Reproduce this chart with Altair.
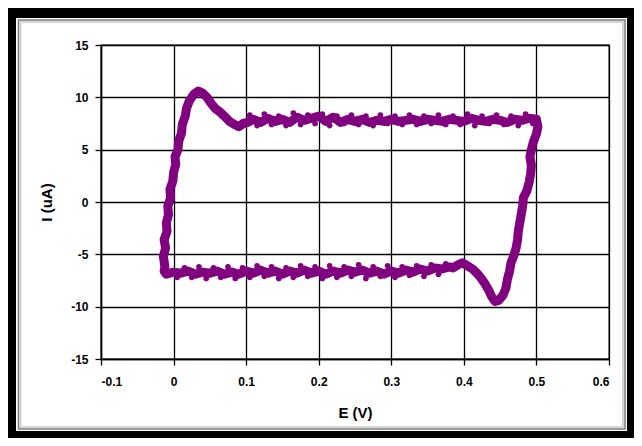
import altair as alt
import pandas as pd

# Cyclic voltammogram, traced around the loop (E in V, I in uA)
E_left = [-0.012, -0.014, -0.011, -0.013, -0.009, -0.010, -0.007, -0.008, -0.004, -0.005,
          -0.001, 0.000, 0.003, 0.002, 0.006, 0.007, 0.011, 0.012, 0.016, 0.018,
          0.022, 0.028, 0.034, 0.040, 0.046, 0.052, 0.058, 0.064, 0.070, 0.077,
          0.084, 0.090, 0.096, 0.102]
I_left = [-6.2, -5.2, -4.4, -3.6, -2.8, -2.0, -1.2, -0.4, 0.4, 1.2,
          2.0, 2.8, 3.6, 4.3, 5.0, 5.8, 6.6, 7.4, 8.2, 9.0,
          9.7, 10.3, 10.6, 10.4, 10.0, 9.4, 8.9, 8.6, 8.2, 7.7,
          7.4, 7.2, 7.5, 7.6]

E_top = [0.11, 0.12, 0.13, 0.14, 0.15, 0.16, 0.17, 0.18, 0.19, 0.20,
         0.21, 0.22, 0.23, 0.24, 0.25, 0.26, 0.27, 0.28, 0.29, 0.30,
         0.31, 0.32, 0.33, 0.34, 0.35, 0.36, 0.37, 0.38, 0.39, 0.40,
         0.41, 0.42, 0.43, 0.44, 0.45, 0.46, 0.47, 0.48, 0.49, 0.50]
I_top = [7.9, 7.6, 8.0, 7.7, 7.9, 7.6, 8.1, 7.8, 8.0, 8.2,
         7.7, 8.1, 7.6, 7.9, 7.7, 7.9, 7.6, 7.8, 7.7, 7.9,
         7.7, 7.8, 7.9, 7.7, 7.9, 7.8, 7.7, 7.9, 7.8, 7.7,
         8.0, 7.8, 7.7, 7.9, 7.8, 7.6, 7.9, 7.8, 8.0, 7.9]

E_right = [0.502, 0.500, 0.496, 0.493, 0.491, 0.493, 0.492, 0.490, 0.487, 0.482,
           0.481, 0.479, 0.477, 0.475, 0.474, 0.472, 0.469, 0.465, 0.463, 0.460,
           0.458, 0.454, 0.448, 0.443, 0.438, 0.434, 0.429, 0.424, 0.418, 0.412,
           0.405, 0.398, 0.392, 0.385]
I_right = [7.2, 6.5, 5.8, 5.0, 4.3, 3.5, 2.7, 1.9, 1.1, 0.4,
           -0.4, -1.2, -2.0, -2.8, -3.6, -4.4, -5.1, -5.8, -6.6, -7.4,
           -8.2, -8.9, -9.4, -9.5, -9.0, -8.4, -7.8, -7.3, -6.8, -6.4,
           -6.1, -5.8, -6.0, -6.3]

E_bottom = [0.38, 0.37, 0.36, 0.35, 0.34, 0.33, 0.32, 0.31, 0.30, 0.29,
            0.28, 0.27, 0.26, 0.25, 0.24, 0.23, 0.22, 0.21, 0.20, 0.19,
            0.18, 0.17, 0.16, 0.15, 0.14, 0.13, 0.12, 0.11, 0.10, 0.09,
            0.08, 0.07, 0.06, 0.05, 0.04, 0.03, 0.02, 0.01, 0.00, -0.01,
            -0.013, -0.012]
I_bottom = [-6.2, -6.4, -6.3, -6.6, -6.4, -6.7, -6.5, -6.8, -6.6, -6.9,
            -6.6, -6.8, -6.5, -6.7, -6.5, -6.8, -6.6, -6.9, -6.6, -6.8,
            -6.5, -6.8, -6.6, -6.9, -6.6, -6.8, -6.5, -6.8, -6.6, -6.9,
            -6.7, -6.9, -6.6, -6.8, -6.7, -6.9, -6.6, -6.8, -6.7, -6.9,
            -6.6, -6.2]

# extra scattered readings along the two flat parts (noise of the band)
E_top_scatter = [0.105, 0.115, 0.125, 0.135, 0.145, 0.155, 0.165, 0.175, 0.185, 0.195,
                 0.205, 0.215, 0.225, 0.235, 0.245, 0.255, 0.265, 0.275, 0.285, 0.295,
                 0.305, 0.315, 0.325, 0.335, 0.345, 0.355, 0.365, 0.375, 0.385, 0.395,
                 0.405, 0.415, 0.425, 0.435, 0.445, 0.455, 0.465, 0.475, 0.485, 0.495]
I_top_scatter = [8.3, 7.3, 8.4, 7.4, 8.2, 7.3, 8.5, 7.4, 8.3, 7.5,
                 8.4, 7.3, 8.2, 7.5, 8.3, 7.4, 8.2, 7.3, 8.3, 7.5,
                 8.2, 7.4, 8.3, 7.4, 8.2, 7.5, 8.3, 7.4, 8.2, 7.4,
                 8.4, 7.3, 8.2, 7.5, 8.3, 7.4, 8.2, 7.3, 8.4, 7.5]
E_bot_scatter = [0.375, 0.365, 0.355, 0.345, 0.335, 0.325, 0.315, 0.305, 0.295, 0.285,
                 0.275, 0.265, 0.255, 0.245, 0.235, 0.225, 0.215, 0.205, 0.195, 0.185,
                 0.175, 0.165, 0.155, 0.145, 0.135, 0.125, 0.115, 0.105, 0.095, 0.085,
                 0.075, 0.065, 0.055, 0.045, 0.035, 0.025, 0.015, 0.005]
I_bot_scatter = [-5.9, -6.9, -6.0, -7.1, -6.1, -7.0, -6.2, -7.2, -6.1, -7.1,
                 -6.2, -7.3, -6.0, -7.1, -6.2, -7.2, -6.1, -7.3, -6.2, -7.1,
                 -6.1, -7.2, -6.3, -7.3, -6.2, -7.1, -6.1, -7.2, -6.3, -7.3,
                 -6.2, -7.2, -6.3, -7.3, -6.2, -7.2, -6.3, -7.2]

x_ticks = [-0.1, 0.0, 0.1, 0.2, 0.3, 0.4, 0.5, 0.6]
y_ticks = [-15, -10, -5, 0, 5, 10, 15]

E_all = E_left + E_top + E_right + E_bottom
I_all = I_left + I_top + I_right + I_bottom
df = pd.DataFrame({"E": E_all, "I": I_all, "i": list(range(len(E_all)))})
df_sc = pd.DataFrame({"E": E_top_scatter + E_bot_scatter, "I": I_top_scatter + I_bot_scatter})

PURPLE = "#800080"
FONT = "Liberation Sans"

x_enc = alt.X("E:Q", scale=alt.Scale(domain=[-0.1, 0.6], nice=False, zero=False),
              axis=alt.Axis(values=x_ticks, title="E (V)",
                            labelExpr="'' + round(datum.value*10)/10",
                            labelPadding=11, titlePadding=18))
y_enc = alt.Y("I:Q", scale=alt.Scale(domain=[-15, 15], nice=False),
              axis=alt.Axis(values=y_ticks, title="I (uA)",
                            labelExpr="'' + round(datum.value*10)/10",
                            labelPadding=7, titlePadding=16))

line = alt.Chart(df).mark_line(color=PURPLE, strokeWidth=9, strokeJoin="round", strokeCap="round").encode(
    x=x_enc, y=y_enc, order="i:Q")
pts = alt.Chart(df).mark_circle(color=PURPLE, size=34, opacity=1).encode(x="E:Q", y="I:Q")
scatter = alt.Chart(df_sc).mark_circle(color=PURPLE, size=32, opacity=1).encode(x="E:Q", y="I:Q")

one = alt.Data(values=[{"a": 1}])
black_frame = alt.Chart(one).mark_rect(fill=None, stroke="black", strokeWidth=10).encode(
    x=alt.value(-90), x2=alt.value(531), y=alt.value(-32), y2=alt.value(391))
grey1 = alt.Chart(one).mark_rect(fill=None, stroke="#7a7a7a", strokeWidth=1.5).encode(
    x=alt.value(-82.5), x2=alt.value(524), y=alt.value(-25), y2=alt.value(384))
grey2 = alt.Chart(one).mark_rect(fill=None, stroke="#c8c8c8", strokeWidth=1.5).encode(
    x=alt.value(-80.5), x2=alt.value(522), y=alt.value(-23), y2=alt.value(382))

chart = alt.layer(line, pts, scatter, black_frame, grey1, grey2).properties(
    width=508, height=314,
    autosize=alt.AutoSizeParams(type="none"),
    padding={"left": 93, "top": 37, "right": 25, "bottom": 79},
    background="white",
).configure_view(stroke="black", strokeWidth=1.3).configure_axis(
    grid=True, gridColor="black", gridWidth=1.3, gridOpacity=1,
    domainColor="black", domainWidth=1.5,
    tickColor="black", tickSize=6, tickWidth=1.3,
    labelFont=FONT, labelFontSize=12, labelFontWeight="bold", labelColor="black",
    titleFont=FONT, titleFontSize=15, titleFontWeight="bold", titleColor="black",
)

chart.save("out.html", embed_options={"renderer": "svg", "actions": False})
